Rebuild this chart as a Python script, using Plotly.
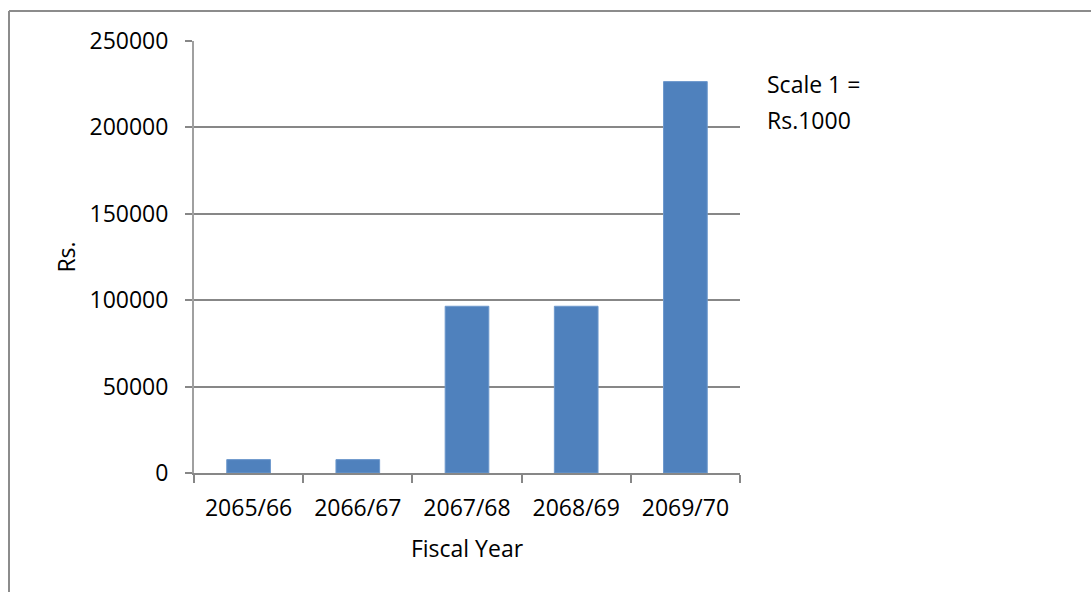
import plotly.graph_objects as go

# Fiscal-year amounts (Rs. in thousands)
fiscal_years = ["2065/66", "2066/67", "2067/68", "2068/69", "2069/70"]
amounts = [7750, 7750, 96500, 96500, 226500]
y_ticks = [0, 50000, 100000, 150000, 200000, 250000]

W, H = 1091, 592
L, R, T, B = 194, 351, 41, 119
FONT = "Open Sans"
GRID = "#878787"

fig = go.Figure(
    go.Bar(
        x=fiscal_years,
        y=amounts,
        marker=dict(color="#4F81BD", line=dict(color="#6D98CC", width=1)),
        showlegend=False,
    )
)

pw = W - L - R
ph = H - T - B


def px_x(x):
    return (x - L) / pw


def px_y(y):
    return (H - B - y) / ph


fig.update_layout(
    width=W,
    height=H,
    margin=dict(l=L, r=R, t=T, b=B),
    paper_bgcolor="white",
    plot_bgcolor="white",
    bargap=0.6,
    font=dict(family=FONT, size=23, color="black"),
    xaxis=dict(
        type="category",
        range=[-0.5, 4.5],
        showline=True,
        linecolor=GRID,
        linewidth=2,
        ticks="outside",
        tickson="boundaries",
        ticklen=8,
        tickwidth=2,
        tickcolor=GRID,
        showgrid=False,
        ticklabelstandoff=13,
        title=dict(text="Fiscal Year", standoff=19, font=dict(size=23)),
        tickfont=dict(size=23),
    ),
    yaxis=dict(
        range=[0, 250000],
        tickvals=y_ticks,
        tickformat="d",
        showline=True,
        linecolor="#A0A0A0",
        linewidth=2,
        ticks="outside",
        ticklen=7,
        tickwidth=2,
        tickcolor=GRID,
        showgrid=True,
        gridcolor=GRID,
        gridwidth=2,
        zeroline=False,
        ticklabelstandoff=12,
        title=dict(text="Rs.", standoff=7, font=dict(size=23)),
        tickfont=dict(size=23),
    ),
    shapes=[
        dict(type="line", xref="paper", yref="paper",
             x0=px_x(9), x1=px_x(W + 5), y0=px_y(11), y1=px_y(11),
             line=dict(color="#8C8C8C", width=2)),
        dict(type="line", xref="paper", yref="paper",
             x0=px_x(9), x1=px_x(9), y0=px_y(11), y1=px_y(H + 5),
             line=dict(color="#8C8C8C", width=2)),
    ],
    annotations=[
        dict(text="Scale 1 =", xref="paper", yref="paper",
             x=px_x(765), y=px_y(84), xanchor="left", yanchor="middle",
             showarrow=False, font=dict(size=23)),
        dict(text="Rs.1000", xref="paper", yref="paper",
             x=px_x(765), y=px_y(120), xanchor="left", yanchor="middle",
             showarrow=False, font=dict(size=23)),
    ],
)

fig.write_html("out.html")
